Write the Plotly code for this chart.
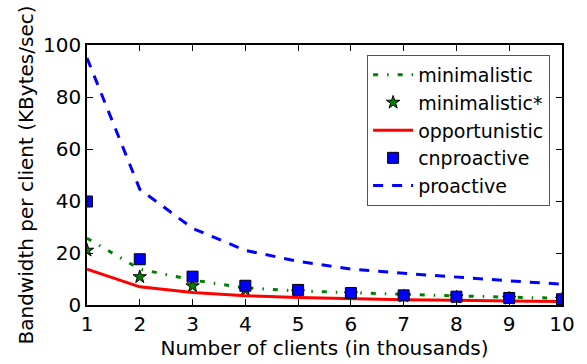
import plotly.graph_objects as go

clients = [1, 2, 3, 4, 5, 6, 7, 8, 9, 10]
minimalistic = [25.7, 13.8, 9.6, 6.6, 5.4, 4.7, 4.0, 3.5, 3.0, 2.6]
minimalistic_star = [21.0, 10.8, 7.3, 5.8, 4.9, 4.1, 3.4, 3.0, 2.5, 2.1]
opportunistic = [13.8, 7.0, 4.8, 3.6, 2.9, 2.4, 2.0, 1.8, 1.5, 1.3]
cnproactive = [39.8, 17.6, 10.9, 7.4, 5.8, 4.6, 3.7, 3.2, 2.7, 2.2]
proactive = [95.0, 44.5, 29.5, 21.0, 16.8, 13.8, 12.2, 10.7, 9.3, 8.0]

FONT = "DejaVu Sans"

fig = go.Figure()
fig.add_trace(go.Scatter(
    x=clients, y=minimalistic, name="minimalistic", mode="lines",
    line=dict(color="#008000", width=3, dash="5px,9px,1.5px,9px"),
))
fig.add_trace(go.Scatter(
    x=clients, y=minimalistic_star, name="minimalistic*", mode="markers",
    marker=dict(symbol="star", size=10, color="#008000",
                line=dict(color="black", width=1)),
))
fig.add_trace(go.Scatter(
    x=clients, y=opportunistic, name="opportunistic", mode="lines",
    line=dict(color="#ff0000", width=3),
))
fig.add_trace(go.Scatter(
    x=clients, y=cnproactive, name="cnproactive", mode="markers",
    marker=dict(symbol="square", size=11, color="#0000ff",
                line=dict(color="black", width=1)),
))
fig.add_trace(go.Scatter(
    x=clients, y=proactive, name="proactive", mode="lines",
    line=dict(color="#0000ff", width=3, dash="10px,9px"),
))

axis_common = dict(
    showline=True, linecolor="black", linewidth=1.5, mirror="allticks",
    ticks="inside", ticklen=6, tickwidth=1, tickcolor="black",
    showgrid=False, zeroline=False,
    tickfont=dict(family=FONT, size=20, color="black"),
)

fig.update_layout(
    width=587, height=364,
    margin=dict(l=87, r=22, t=45, b=59),
    paper_bgcolor="white", plot_bgcolor="white",
    font=dict(family=FONT, color="black"),
    xaxis=dict(
        range=[1, 10], tickvals=clients,
        title=dict(text="Number of clients (in thousands)",
                   font=dict(family=FONT, size=20), standoff=2),
        **axis_common,
    ),
    yaxis=dict(
        range=[0, 100], tickvals=[0, 20, 40, 60, 80, 100],
        title=dict(text="Bandwidth per client (KBytes/sec)",
                   font=dict(family=FONT, size=20), standoff=4),
        **axis_common,
    ),
    legend=dict(
        x=0.975, y=0.962, xanchor="right", yanchor="top",
        bgcolor="white", bordercolor="#555555", borderwidth=1,
        font=dict(family=FONT, size=19, color="black"),
        itemwidth=40, tracegroupgap=0,
    ),
    showlegend=True,
)

fig.write_html("out.html")
